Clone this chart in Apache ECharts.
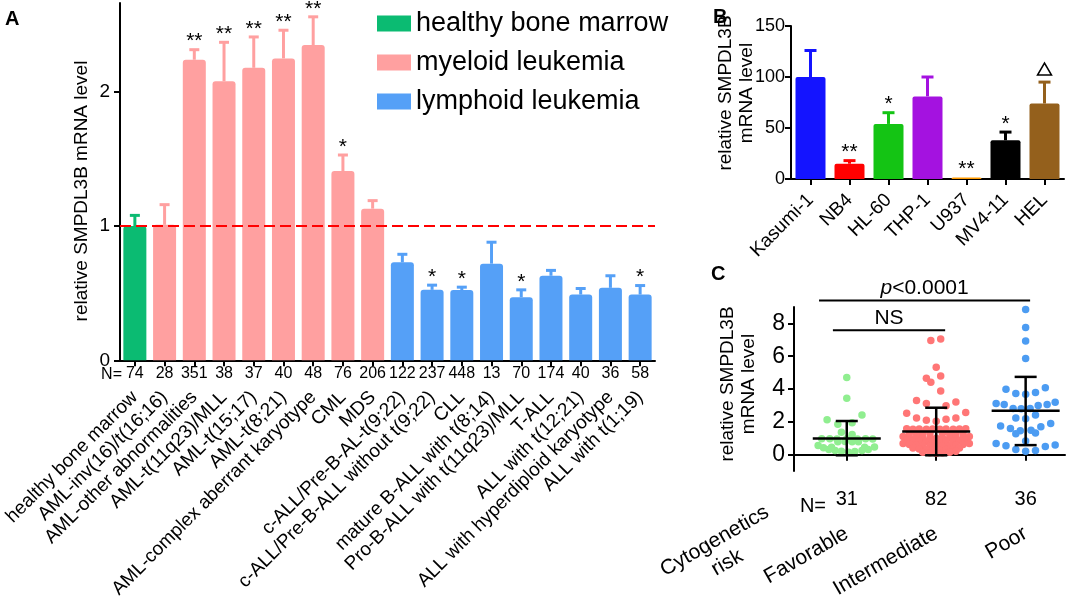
<!DOCTYPE html>
<html>
<head>
<meta charset="utf-8">
<script src="https://cdn.jsdelivr.net/npm/echarts@6/dist/echarts.min.js"></script>
<style>
html,body{margin:0;padding:0;background:#fff;}
#c{width:1072px;height:601px;}
</style>
</head>
<body>
<div id="c"></div>
<script>
// ---------- Panel A data ----------
const catsA = ['healthy bone marrow','AML-inv(16)/t(16;16)','AML-other abnormalities','AML-t(11q23)/MLL','AML-t(15;17)','AML-t(8;21)','AML-complex aberrant karyotype','CML','MDS','c-ALL/Pre-B-AL-t(9;22)','c-ALL/Pre-B-ALL without t(9;22)','CLL','mature B-ALL with t(8;14)','Pro-B-ALL with t(11q23)/MLL','T-ALL','ALL with t(12;21)','ALL with hyperdiploid karyotype','ALL with t(1;19)'];
const nA = [74,28,351,38,37,40,48,76,206,122,237,448,13,70,174,40,36,58];
const groupA = [0,1,1,1,1,1,1,1,1,2,2,2,2,2,2,2,2,2];
const groupNamesA = ['healthy bone marrow','myeloid leukemia','lymphoid leukemia'];
const meanA = [1.00,1.01,2.24,2.08,2.18,2.25,2.35,1.41,1.13,0.73,0.525,0.523,0.72,0.47,0.63,0.49,0.54,0.49];
const errA  = [1.08,1.16,2.315,2.37,2.41,2.46,2.56,1.53,1.19,0.79,0.56,0.545,0.88,0.525,0.67,0.535,0.63,0.557];
const sigA  = ['','','**','**','**','**','**','*','','','*','*','','*','','','','*'];
const refLineA = 1;

// ---------- Panel B data ----------
const catsB = ['Kasumi-1','NB4','HL-60','THP-1','U937','MV4-11','HEL'];
const meanB = [100,15,54,81,1.5,38,74];
const errB  = [126,18,65,100,1.5,46,95];
const sigB  = ['','**','*','','**','*','△'];

// ---------- Panel C data ----------
const catsC = ['Favorable','Intermediate','Poor'];
const nC = [31,82,36];
// [horizontal offset within the group (category units), value]
const favC = [[0,4.70],[0,3.44],[0.17,2.42],[-0.22,2.13],[-0.10,1.86],[0.06,1.94],[-0.06,1.36],[0.06,1.22],
  [-0.28,0.97],[-0.19,0.97],[-0.11,0.96],[0,0.97],[0.12,0.96],[0.21,0.97],[0.29,0.96],
  [-0.10,0.78],[-0.02,0.80],[0.06,0.78],[0.13,0.78],
  [-0.32,0.55],[-0.26,0.42],[-0.20,0.32],[-0.13,0.25],[-0.06,0.20],[0.02,0.14],[0.09,0.19],[0.17,0.25],[0.24,0.32],[0.31,0.46],[-0.17,0.45],[0.20,0.45]];
const intC = [[-0.06,6.96],[0.05,7.05],[0,5.32],[-0.11,4.66],[0.05,4.79],[-0.06,4.41],[0.05,3.88],[-0.22,3.30],[-0.11,3.11],[0.22,3.21],[0.11,2.98],[-0.33,2.52],[0.33,2.57],[-0.22,2.24],[-0.11,2.09],[0,2.03],[0.11,2.15],[0.22,2.24],
  [-0.33,1.58],[-0.26,1.55],[-0.19,1.57],[-0.11,1.55],[-0.04,1.56],[0.04,1.55],[0.11,1.57],[0.19,1.55],[0.26,1.56],[0.33,1.58],
  [-0.30,1.30],[-0.22,1.28],[-0.15,1.30],[-0.07,1.28],[0.07,1.30],[0.15,1.28],[0.22,1.30],[0.30,1.29],
  [-0.37,1.10],[-0.30,1.06],[-0.22,1.04],[-0.15,1.02],[-0.07,1.01],[0,1.00],[0.07,1.01],[0.15,1.02],[0.22,1.04],[0.30,1.06],[0.37,1.10],
  [-0.33,0.88],[-0.26,0.84],[-0.19,0.82],[-0.11,0.80],[-0.04,0.79],[0.04,0.79],[0.11,0.80],[0.19,0.82],[0.26,0.85],[0.33,0.88],
  [-0.37,0.68],[-0.30,0.62],[-0.22,0.57],[-0.15,0.54],[-0.07,0.52],[0,0.51],[0.07,0.52],[0.15,0.54],[0.22,0.57],[0.30,0.62],[0.37,0.68],
  [-0.26,0.40],[-0.19,0.35],[-0.11,0.31],[-0.04,0.29],[0.04,0.29],[0.11,0.31],[0.19,0.35],[0.26,0.40],
  [-0.15,0.15],[-0.07,0.11],[0,0.08],[0.07,0.11],[0.15,0.15],[0.22,0.20]];
const poorC = [[0,8.85],[0,7.75],[0,6.92],[0,5.86],
  [-0.22,3.98],[-0.11,3.73],[0,3.68],[0.11,3.79],[0.22,4.08],
  [-0.33,3.11],[-0.24,3.05],[-0.14,2.82],[-0.05,2.80],[0.05,2.82],[0.14,3.00],[0.24,3.05],[0.33,3.19],
  [0.11,2.42],[-0.11,2.23],[0,2.19],
  [-0.28,1.74],[-0.17,1.60],[0.17,1.70],[0.28,1.90],
  [-0.06,1.45],[0.06,1.49],
  [-0.11,1.28],[0.11,1.32],
  [0,0.83],
  [-0.33,0.68],[-0.22,0.54],[0.22,0.49],[0.33,0.58],
  [-0.11,0.31],[0,0.20],[0.11,0.25]];
const meanC = [0.99,1.41,2.67];
const sdLowC = [-0.04,-0.04,0.58];
const sdHighC = [2.05,2.86,4.74];
const sigTextC = ['p<0.0001','NS'];
const sigFromC = [0.69,0.845];
const sigToC = [3.05,2.10];
const sigLevelC = [9.39,7.58];

// ---------- styling ----------
const FONT = 'Liberation Sans, Arial, Helvetica, sans-serif';
const colA = ['#0bbb72','#ffa0a0','#55a0f7'];
const colB = ['#1414ff','#ff0000','#14c414','#a412e0','#ff9a00','#000000','#94601c'];
const colC = ['#90ee90','#ff7676','#4c9cf2'];
const axisLine = {show:true, lineStyle:{color:'#000', width:2}};
const tick = {show:true, length:6, lineStyle:{color:'#000', width:2}};

const chart = echarts.init(document.getElementById('c'), null, {renderer:'canvas'});

const barSeriesA = groupNamesA.map((name, g) => ({
  name, type:'bar', stack:'a', xAxisIndex:0, yAxisIndex:0, barWidth:23,
  itemStyle:{color:colA[g], borderRadius:[3,3,0,0]},
  data: meanA.map((v,i)=> groupA[i]===g ? v : '-'),
  markLine: g===0 ? {silent:true, symbol:'none', label:{show:false},
    lineStyle:{color:'#ff0000', width:2, type:[11,5]}, data:[{yAxis:refLineA}]} : undefined,
  z:2
}));

function errRender(colorFn, sigs, capHalf, lw, starOffset) {
  return function(params, api) {
    const i = api.value(0), m = api.value(1), e = api.value(2);
    const p0 = api.coord([i, m]), p1 = api.coord([i, e]);
    const c = colorFn(params.dataIndex);
    const ch = [];
    if (e > m) {
      ch.push({type:'line', shape:{x1:p0[0],y1:p0[1],x2:p1[0],y2:p1[1]}, style:{stroke:c,lineWidth:lw}});
      ch.push({type:'line', shape:{x1:p1[0]-capHalf,y1:p1[1],x2:p1[0]+capHalf,y2:p1[1]}, style:{stroke:c,lineWidth:lw}});
    }
    const s = sigs[params.dataIndex];
    if (s === '△') {
      const cy = p1[1]-13;
      ch.push({type:'polygon', shape:{points:[[p1[0]-7,cy+6],[p1[0]+7,cy+6],[p1[0],cy-6]]}, style:{stroke:'#000', fill:'none', lineWidth:1.5}});
    } else if (s) {
      ch.push({type:'text', style:{text:s, x:p1[0], y:p1[1]-starOffset, align:'center', verticalAlign:'middle', fontSize:21, fontFamily:FONT, fill:'#000'}});
    }
    return {type:'group', children:ch};
  };
}

const scatterC = [favC, intC, poorC].map((arr, g) => ({
  name: catsC[g], type:'scatter', xAxisIndex:3, yAxisIndex:2, symbolSize:7.5,
  itemStyle:{color:colC[g], opacity:1},
  data: arr.map(p => [g+1+p[0], p[1]]), z:2
}));

const option = {
  animation:false,
  backgroundColor:'#fff',
  textStyle:{fontFamily:FONT, color:'#000'},
  legend:{
    data:groupNamesA, orient:'vertical', left:372, top:5, icon:'rect',
    itemWidth:34, itemHeight:16, itemGap:12,
    textStyle:{fontSize:27, color:'#000', fontFamily:FONT, padding:[0,0,0,0]},
    selectedMode:false
  },
  grid:[
    {left:120, top:3, width:535, height:360},
    {left:791, top:26, width:273, height:153},
    {left:794, top:307, width:271, height:172}
  ],
  xAxis:[
    {gridIndex:0, type:'category', data:catsA, axisLine, axisTick:Object.assign({alignWithLabel:true}, tick),
      axisLabel:{interval:0, margin:5, fontSize:16, color:'#000', fontFamily:FONT, formatter:(v,i)=>String(nA[i])}},
    {gridIndex:0, type:'category', data:catsA, position:'bottom', axisLine:{show:false}, axisTick:{show:false},
      axisLabel:{interval:0, rotate:45, margin:34, fontSize:19, color:'#000', fontFamily:FONT}},
    {gridIndex:1, type:'category', data:catsB, axisLine, axisTick:Object.assign({alignWithLabel:true}, tick),
      axisLabel:{interval:0, rotate:45, margin:18, fontSize:19, color:'#000', fontFamily:FONT}},
    {gridIndex:2, type:'value', min:0.41, max:3.44, axisLine, splitLine:{show:false},
      axisTick:Object.assign({customValues:[1,2,3]}, tick),
      axisLabel:{customValues:[1,2,3], margin:18, fontSize:20, color:'#000', fontFamily:FONT, formatter:v=>String(nC[Math.round(v)-1])}},
    {gridIndex:2, type:'value', min:0.41, max:3.44, position:'bottom', axisLine:{show:false}, axisTick:{show:false}, splitLine:{show:false},
      axisLabel:{customValues:[1,2,3], rotate:30, margin:61, fontSize:21, color:'#000', fontFamily:FONT, formatter:v=>catsC[Math.round(v)-1]}}
  ],
  yAxis:[
    {gridIndex:0, type:'value', min:0, max:2.663, axisLine, splitLine:{show:false},
      axisTick:Object.assign({customValues:[0,1,2]}, tick),
      axisLabel:{customValues:[0,1,2], margin:10, fontSize:19, color:'#000', fontFamily:FONT}},
    {gridIndex:1, type:'value', min:0, max:150, interval:50, axisLine, splitLine:{show:false}, axisTick:tick,
      axisLabel:{margin:6, fontSize:18, color:'#000', fontFamily:FONT}},
    {gridIndex:2, type:'value', min:-1, max:9, axisLine, splitLine:{show:false},
      axisTick:Object.assign({customValues:[0,2,4,6,8]}, tick),
      axisLabel:{customValues:[0,2,4,6,8], margin:9, fontSize:23, color:'#000', fontFamily:FONT}}
  ],
  series:[
    ...barSeriesA,
    {type:'custom', xAxisIndex:0, yAxisIndex:0, clip:false, z:3,
      renderItem: errRender(i=>colA[groupA[i]], sigA, 5, 3, 8),
      data: meanA.map((v,i)=>[i, v, errA[i]])},
    {type:'bar', xAxisIndex:2, yAxisIndex:1, barWidth:30,
      itemStyle:{borderRadius:[2,2,0,0], color:p=>colB[p.dataIndex]},
      data: meanB},
    {type:'custom', xAxisIndex:2, yAxisIndex:1, clip:false, z:3,
      renderItem: errRender(i=>colB[i], sigB, 6, 3, 8),
      data: meanB.map((v,i)=>[i, v, errB[i]])},
    ...scatterC,
    {type:'custom', xAxisIndex:3, yAxisIndex:2, clip:false, z:4,
      renderItem:function(params, api){
        const g = api.value(0);
        const pm = api.coord([g, api.value(1)]), pl = api.coord([g, api.value(2)]), ph = api.coord([g, api.value(3)]);
        const st = {stroke:'#000', lineWidth:2.5};
        return {type:'group', children:[
          {type:'line', shape:{x1:pm[0]-34,y1:pm[1],x2:pm[0]+34,y2:pm[1]}, style:st},
          {type:'line', shape:{x1:pl[0],y1:pl[1],x2:ph[0],y2:ph[1]}, style:st},
          {type:'line', shape:{x1:pl[0]-11,y1:pl[1],x2:pl[0]+11,y2:pl[1]}, style:st},
          {type:'line', shape:{x1:ph[0]-11,y1:ph[1],x2:ph[0]+11,y2:ph[1]}, style:st}
        ]};
      },
      data: meanC.map((m,i)=>[i+1, m, sdLowC[i], sdHighC[i]])},
    {type:'custom', xAxisIndex:3, yAxisIndex:2, clip:false, z:4,
      renderItem:function(params, api){
        const a = api.coord([api.value(0), api.value(2)]), b = api.coord([api.value(1), api.value(2)]);
        const t = sigTextC[params.dataIndex];
        const txt = t.charAt(0)==='p' ? '{i|p}' + t.slice(1) : t;
        return {type:'group', children:[
          {type:'line', shape:{x1:a[0],y1:a[1],x2:b[0],y2:b[1]}, style:{stroke:'#000', lineWidth:2}},
          {type:'text', style:{text:txt, x:(a[0]+b[0])/2, y:a[1]-12, align:'center', verticalAlign:'middle',
            fontSize:21, fontFamily:FONT, fill:'#000', rich:{i:{fontStyle:'italic', fontSize:21, fontFamily:FONT}}}}
        ]};
      },
      data: sigTextC.map((t,i)=>[sigFromC[i], sigToC[i], sigLevelC[i]])}
  ],
  graphic:[
    {type:'text', x:5, y:9, style:{text:'A', fontSize:20, fontWeight:'bold', fontFamily:FONT, fill:'#000'}},
    {type:'text', x:713, y:7, style:{text:'B', fontSize:20, fontWeight:'bold', fontFamily:FONT, fill:'#000'}},
    {type:'text', x:711, y:264, style:{text:'C', fontSize:20, fontWeight:'bold', fontFamily:FONT, fill:'#000'}},
    {type:'text', x:82, y:191, rotation:Math.PI/2, style:{text:'relative SMPDL3B mRNA level', fontSize:19, fontFamily:FONT, fill:'#000', align:'center', verticalAlign:'middle'}},
    {type:'text', x:736, y:93, rotation:Math.PI/2, style:{text:'relative SMPDL3B\nmRNA level', fontSize:19, lineHeight:21, fontFamily:FONT, fill:'#000', align:'center', verticalAlign:'middle'}},
    {type:'text', x:738, y:384, rotation:Math.PI/2, style:{text:'relative SMPDL3B\nmRNA level', fontSize:19, lineHeight:21, fontFamily:FONT, fill:'#000', align:'center', verticalAlign:'middle'}},
    {type:'text', x:122, y:375, style:{text:'N=', fontSize:16, fontFamily:FONT, fill:'#000', align:'right', verticalAlign:'middle'}},
    {type:'text', x:826, y:506, style:{text:'N=', fontSize:20, fontFamily:FONT, fill:'#000', align:'right', verticalAlign:'middle'}},
    {type:'text', x:721, y:552, rotation:Math.PI/6, style:{text:'Cytogenetics\nrisk', fontSize:21, lineHeight:25, fontFamily:FONT, fill:'#000', align:'center', verticalAlign:'middle'}}
  ]
};
chart.setOption(option);
</script>
</body>
</html>
